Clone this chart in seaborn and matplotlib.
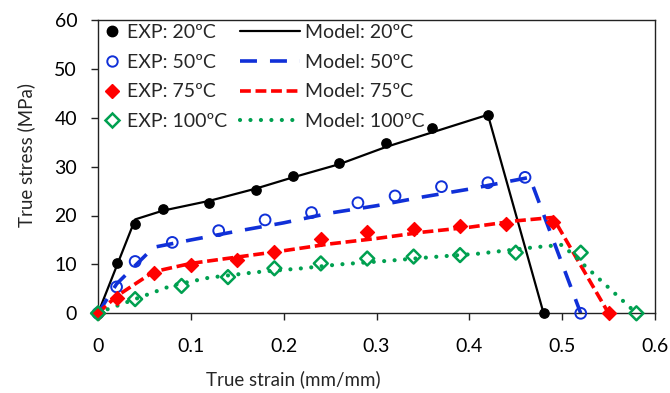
import numpy as np
import matplotlib
matplotlib.use("Agg")
import matplotlib.pyplot as plt
import seaborn as sns
from matplotlib.lines import Line2D

# experimental points
exp20_x = [0, 0.02, 0.04, 0.07, 0.12, 0.17, 0.21, 0.26, 0.31, 0.36, 0.42, 0.48]
exp20_y = [0, 10.3, 18.3, 21.3, 22.5, 25.2, 28.1, 30.8, 34.9, 37.8, 40.6, 0]
exp50_x = [0, 0.02, 0.04, 0.08, 0.13, 0.18, 0.23, 0.28, 0.32, 0.37, 0.42, 0.46, 0.52]
exp50_y = [0, 5.4, 10.6, 14.5, 16.9, 19.1, 20.6, 22.6, 24.0, 25.9, 26.7, 27.8, 0]
exp75_x = [0, 0.02, 0.06, 0.10, 0.15, 0.19, 0.24, 0.29, 0.34, 0.39, 0.44, 0.49, 0.55]
exp75_y = [0, 3.1, 8.3, 9.9, 11.0, 12.6, 15.1, 16.7, 17.2, 17.9, 18.2, 18.6, 0]
exp100_x = [0, 0.04, 0.09, 0.14, 0.19, 0.24, 0.29, 0.34, 0.39, 0.45, 0.52, 0.58]
exp100_y = [0, 2.9, 5.6, 7.4, 9.2, 10.2, 11.2, 11.6, 11.9, 12.4, 12.4, 0]

# model curves
mod20_x = [0, 0.04, 0.07, 0.12, 0.17, 0.21, 0.26, 0.31, 0.36, 0.42, 0.48]
mod20_y = [0, 19.2, 21.0, 23.0, 25.5, 27.8, 30.5, 34.0, 37.0, 40.6, 0]
mod50_x = [0, 0.02, 0.06, 0.10, 0.15, 0.20, 0.25, 0.30, 0.35, 0.40, 0.465, 0.52]
mod50_y = [0, 6.0, 13.5, 15.0, 16.8, 18.5, 20.5, 22.0, 23.8, 25.4, 27.8, 0]
mod75_x = [0, 0.02, 0.06, 0.10, 0.15, 0.20, 0.25, 0.30, 0.35, 0.40, 0.45, 0.49, 0.55]
mod75_y = [0, 3.5, 8.5, 10.2, 11.5, 12.8, 14.2, 15.3, 16.6, 17.6, 18.9, 19.6, 0]
mod100_x = [0, 0.01, 0.05, 0.08, 0.12, 0.17, 0.22, 0.26, 0.31, 0.36, 0.41, 0.47, 0.50, 0.58]
mod100_y = [0, 0.8, 3.6, 5.7, 7.3, 8.4, 9.2, 10.0, 10.7, 11.5, 12.2, 13.5, 14.0, 0]

temps = ["20ºC", "50ºC", "75ºC", "100ºC"]
x_ticks = [0, 0.1, 0.2, 0.3, 0.4, 0.5, 0.6]
x_ticklabels = ["0", "0.1", "0.2", "0.3", "0.4", "0.5", "0.6"]
y_ticks = [0, 10, 20, 30, 40, 50, 60]

sns.set_style("ticks")
plt.rcParams["font.family"] = ["Lato", "DejaVu Sans"]
plt.rcParams["font.size"] = 14

fig = plt.figure(figsize=(6.7, 3.93), dpi=100)
ax = fig.add_axes([98 / 670, 1 - 313.3 / 393, 557 / 670, 293.4 / 393])

green = "#00a050"
blue = "#1030d8"
red = "#ff0000"
styles = [
    dict(color="black", linestyle="-", lw=1.6),
    dict(color=blue, linestyle=(0, (4.7, 3.6)), lw=2.6),
    dict(color=red, linestyle=(0, (3.0, 1.3)), lw=2.6),
    dict(color=green, linestyle=(0, (0.01, 2.5)), lw=3.0, dash_capstyle="round"),
]
models = [(mod20_x, mod20_y), (mod50_x, mod50_y), (mod75_x, mod75_y), (mod100_x, mod100_y)]
for (mx, my), st in zip(models, styles):
    sns.lineplot(x=mx, y=my, sort=False, estimator=None, ax=ax, clip_on=False, **st)

markers = [
    dict(marker="o", s=45, facecolor="black", edgecolor="black", linewidth=1),
    dict(marker="o", s=60, facecolor="none", edgecolor=blue, linewidth=1.4),
    dict(marker="D", s=50, facecolor=red, edgecolor=red, linewidth=1),
    dict(marker="D", s=50, facecolor="none", edgecolor=green, linewidth=1.8),
]
exps = [(exp20_x, exp20_y), (exp50_x, exp50_y), (exp75_x, exp75_y), (exp100_x, exp100_y)]
for (ex, ey), mk in zip(exps, markers):
    sns.scatterplot(x=ex, y=ey, ax=ax, clip_on=False, zorder=3, **mk)

ax.set_xlim(0, 0.6)
ax.set_ylim(0, 60)
ax.set_xticks(x_ticks)
ax.set_xticklabels(x_ticklabels)
ax.set_yticks(y_ticks)
ax.tick_params(direction="out", length=5, width=1, colors="#222222", labelcolor="black",
               labelsize=14)
ax.tick_params(axis="x", pad=13)
ax.tick_params(axis="y", pad=10)
for sp in ax.spines.values():
    sp.set_visible(True)
    sp.set_color("#222222")
    sp.set_linewidth(1)
ax.set_xlabel("True strain (mm/mm)", fontsize=13.5)
ax.set_ylabel("True stress (MPa)", fontsize=13.5)
ax.xaxis.set_label_coords(0.35, -0.195)
ax.yaxis.set_label_coords(-0.112, 0.54)

exp_handles = []
for mk in markers:
    exp_handles.append(Line2D([], [], linestyle="none", marker=mk["marker"],
                              markersize=7.5 if mk["marker"] == "o" else 7,
                              markerfacecolor=mk["facecolor"], markeredgecolor=mk["edgecolor"],
                              markeredgewidth=mk["linewidth"]))
mod_handles = [Line2D([], [], **st) for st in styles]

leg1 = ax.legend(exp_handles, ["EXP: " + t for t in temps], loc="upper left",
                 bbox_to_anchor=(0.0, 1.0), frameon=False, handlelength=1.0,
                 handletextpad=0.3, labelspacing=0.66, borderpad=0.2, borderaxespad=0,
                 fontsize=14)
ax.add_artist(leg1)
ax.legend(mod_handles, ["Model: " + t for t in temps], loc="upper left",
          bbox_to_anchor=(0.248, 1.0), frameon=False, handlelength=3.1,
          handletextpad=0.25, labelspacing=0.66, borderpad=0.2, borderaxespad=0,
          fontsize=14)

fig.savefig("out.png", dpi=100)
